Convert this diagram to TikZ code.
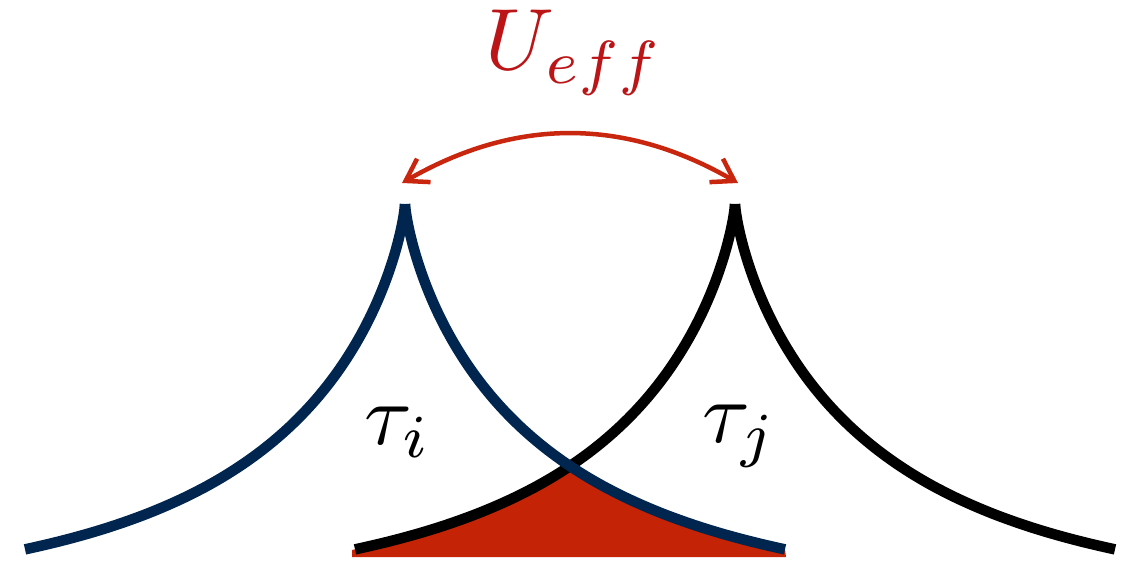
\documentclass[tikz,border=0pt]{standalone}
\usetikzlibrary{arrows.meta}
\definecolor{navy}{HTML}{00264F}
\definecolor{fillred}{HTML}{C42306}
\definecolor{arrowred}{HTML}{C8260E}
\definecolor{textred}{HTML}{BB1518}
\tikzset{
  curve/.style={line width=10.5pt, line cap=butt, line join=round},
  bigmath/.style={inner sep=0pt, scale=8.7, transform shape},
  barb/.tip={Straight Barb[length=21pt,width=27pt]},
}
% profile: height above base = 400*exp(-0.02313*d^0.75) - 44, with d = s^2
\begin{document}
\begin{tikzpicture}[x=1pt,y=1pt]
\useasboundingbox (0,0) rectangle (1132,560);
% red overlap area (under both curves)
\fill[fillred] plot[smooth, domain=19.494:12.845, samples=30, variable=\s]
      ({735-\s*\s}, {400*exp(-0.02313*\s^1.5)-44})
   -- plot[smooth, domain=12.845:19.494, samples=30, variable=\s]
      ({405+\s*\s}, {400*exp(-0.02313*\s^1.5)-44})
   -- (786,3) -- (352,3) -- (352,10) -- cycle;
% black curve (tau_j)
\draw[curve, black] plot[smooth, domain=0.05:19.494, samples=70, variable=\s]
      ({735-\s*\s}, {400*exp(-0.02313*\s^1.5)-44});
\draw[curve, black] plot[smooth, domain=0.05:19.494, samples=70, variable=\s]
      ({735+\s*\s}, {400*exp(-0.02313*\s^1.5)-44});
% blue curve (tau_i)
\draw[curve, navy] plot[smooth, domain=0.05:19.494, samples=70, variable=\s]
      ({405-\s*\s}, {400*exp(-0.02313*\s^1.5)-44});
\draw[curve, navy] plot[smooth, domain=0.05:19.494, samples=70, variable=\s]
      ({405+\s*\s}, {400*exp(-0.02313*\s^1.5)-44});
% labels
\node[bigmath, anchor=base west] (ti) at (363,116) {$\tau_i$};
\node[bigmath, anchor=base west] (tj) at (701,118) {$\tau_j$};
\node[bigmath, anchor=base west, text=textred] (u) at (484,490) {$U_{eff}$};
% interaction arrow
\coordinate (ai) at (402,377);
\coordinate (aj) at (738,377);
\draw[arrowred, line width=4.5pt, {barb}-{barb}] (ai) to[bend left=30] (aj);
\end{tikzpicture}
\end{document}
